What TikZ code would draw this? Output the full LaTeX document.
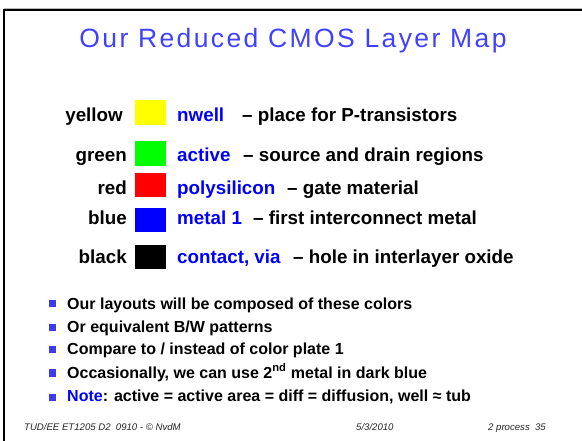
\documentclass[tikz,border=0pt]{standalone}
\usepackage{fontspec}
\setmainfont{Liberation Sans}
\newfontfamily\titlefont[LetterSpace=9]{Liberation Sans}
\definecolor{titleblue}{RGB}{64,64,255}
\definecolor{nameblue}{RGB}{0,0,255}
\definecolor{bulletblue}{RGB}{60,60,235}
\definecolor{swyellow}{RGB}{255,255,0}
\definecolor{swgreen}{RGB}{0,255,0}
\definecolor{swred}{RGB}{255,0,0}
\definecolor{swblue}{RGB}{0,0,255}
\newcommand{\rowfont}{\bfseries\fontsize{18.8}{22}\selectfont}
\newcommand{\listfont}{\bfseries\fontsize{16}{18}\selectfont}
\newcommand{\footfont}{\itshape\fontsize{9.6}{11}\selectfont}
\begin{document}
\begin{tikzpicture}[x=1pt,y=-1pt,
  swatch/.style={draw=none, minimum width=31pt, minimum height=24.5pt, inner sep=0pt, anchor=north west},
  colname/.style={anchor=base east, font=\rowfont, inner sep=0pt},
  layname/.style={anchor=base west, font=\rowfont, text=nameblue, inner sep=0pt},
  desc/.style={anchor=base west, font=\rowfont, inner sep=0pt},
  bulletsq/.style={fill=bulletblue, draw=none, minimum size=7pt, inner sep=0pt},
  item/.style={anchor=base west, font=\listfont, inner sep=0pt},
  foot/.style={anchor=base west, font=\footfont, inner sep=0pt, text=black!85}]
\useasboundingbox (0,0) rectangle (582,441);
% slide frame
\draw[gray!55, line width=1pt] (4,8.2) -- (582,8.2);
\draw[black, line width=2pt] (4,441) -- (4,10) -- (582,10);
% title
\node[anchor=base, text=titleblue, font=\titlefont\fontsize{26.5}{30}\selectfont, inner sep=0pt] (title) at (293,48) {Our Reduced CMOS Layer Map};
% layer rows
\node[colname] (cy) at (123,122) {yellow};
\node[swatch, fill=swyellow] (sy) at (135,100) {};
\node[layname] (ny) at (177,122) {nwell};
\node[desc] (dy) at (242,122) {– place for P-transistors};

\node[colname] (cg) at (127,162) {green};
\node[swatch, fill=swgreen] (sg) at (135,141) {};
\node[layname] (ng) at (177,162) {active};
\node[desc] (dg) at (243,162) {– source and drain regions};

\node[colname] (cr) at (127,195) {red};
\node[swatch, fill=swred] (sr) at (135,172.5) {};
\node[layname] (nr) at (177,195) {polysilicon};
\node[desc] (dr) at (287,195) {– gate material};

\node[colname] (cb) at (127,225) {blue};
\node[swatch, fill=swblue] (sb) at (135,207.5) {};
\node[layname] (nb) at (177,225) {metal 1};
\node[desc] (db) at (253,225) {– first interconnect metal};

\node[colname] (ck) at (127,264) {black};
\node[swatch, fill=black] (sk) at (135,244.5) {};
\node[layname] (nk) at (177,264) {contact, via};
\node[desc] (dk) at (293,264) {– hole in interlayer oxide};
% bullet list
\node[bulletsq] (b1) at (52,304) {};
\node[item] (t1) at (67,309) {Our layouts will be composed of these colors};
\node[bulletsq] (b2) at (52,327.5) {};
\node[item] (t2) at (67,332.5) {Or equivalent B/W patterns};
\node[bulletsq] (b3) at (52,350) {};
\node[item] (t3) at (67,355) {Compare to / instead of color plate 1};
\node[bulletsq] (b4) at (52,373) {};
\node[item] (t4) at (67,378) {Occasionally, we can use 2\textsuperscript{nd} metal in dark blue};
\node[bulletsq] (b5) at (52,397) {};
\node[item] (t5) at (67,402) {\textcolor{nameblue}{Note}: active = active area = diff = diffusion, well ≈ tub};
% footer
\node[foot] (f1) at (24,431) {TUD/EE ET1205 D2\ \ 0910 - © NvdM};
\node[foot] (f2) at (356,431) {5/3/2010};
\node[foot] (f3) at (488,431) {2 process\ \ 35};
\end{tikzpicture}
\end{document}
